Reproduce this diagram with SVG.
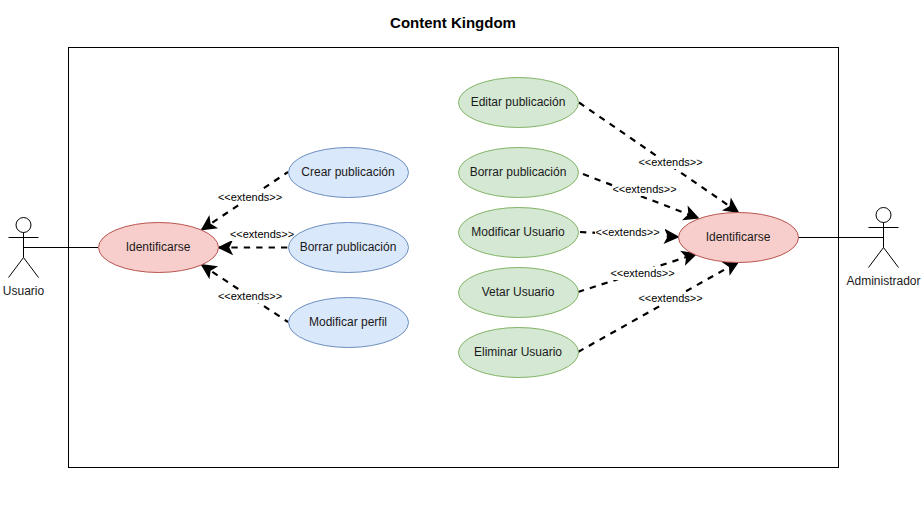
<svg xmlns="http://www.w3.org/2000/svg" width="924" height="515" viewBox="0 0 924 515">
<style>
text{font-family:"Liberation Sans",Arial,sans-serif;font-size:12px;fill:#1a1a1a;text-anchor:middle}
.title{font-size:15px;font-weight:bold;fill:#000}
.lab{font-size:11px;fill:#000}
.labbg{fill:#fff}
.blue{fill:#dae8fc;stroke:#6c8ebf}
.green{fill:#d5e8d4;stroke:#82b366}
.red{fill:#f8cecc;stroke:#b85450}
.line{fill:none;stroke:#000;stroke-width:1}
.dash{fill:none;stroke:#000;stroke-width:2.2;stroke-dasharray:6.3 6.1;marker-end:url(#arrow)}
.rev{fill:none;stroke:#000;stroke-width:2.2;stroke-dasharray:6.3 6.1;marker-start:url(#arrow)}
</style>
<defs>
<marker id="arrow" markerUnits="userSpaceOnUse" markerWidth="18" markerHeight="18" refX="15" refY="9" orient="auto-start-reverse" overflow="visible">
<path d="M15 9 L2.5 2.8 L5.5 9 L2.5 15.2 Z" fill="#000" stroke="#000" stroke-width="1.5" stroke-linejoin="miter"/>
</marker>
</defs>
<rect x="0" y="0" width="924" height="515" fill="#fff"/>
<text class="title" x="453" y="28">Content Kingdom</text>
<rect id="boundary" class="line" x="68.5" y="47.5" width="770" height="420"/>
<g id="connectors">
<line class="line" x1="23.5" y1="247.5" x2="98" y2="247.5"/>
<line class="line" x1="798" y1="237.5" x2="883.5" y2="237.5"/>
<path class="rev" d="M202 229.5 L288 172"/>
<path class="rev" d="M219 247.5 L288 247.5"/>
<path class="rev" d="M202 265 L288 322"/>
<path class="dash" d="M579 102.5 L738 212"/>
<path class="dash" d="M583 174 L698 218"/>
<path class="dash" d="M580 232 L678 237"/>
<path class="dash" d="M578 292 L696 254"/>
<path class="dash" d="M578 352 L738 262"/>
<g id="edge-labels">
<rect class="labbg" x="218" y="191" width="64" height="13"/><text class="lab" x="250" y="201">&lt;&lt;extends&gt;&gt;</text>
<rect class="labbg" x="230" y="228" width="64" height="13"/><text class="lab" x="262" y="238">&lt;&lt;extends&gt;&gt;</text>
<rect class="labbg" x="218" y="290" width="64" height="13"/><text class="lab" x="250" y="300">&lt;&lt;extends&gt;&gt;</text>
<rect class="labbg" x="639" y="156" width="64" height="13"/><text class="lab" x="670.5" y="166">&lt;&lt;extends&gt;&gt;</text>
<rect class="labbg" x="613" y="183" width="64" height="13"/><text class="lab" x="644.5" y="193">&lt;&lt;extends&gt;&gt;</text>
<rect class="labbg" x="595" y="226" width="70" height="13"/><text class="lab" x="627.5" y="236">&lt;&lt;extends&gt;&gt;</text>
<rect class="labbg" x="611" y="267" width="64" height="13"/><text class="lab" x="642.5" y="277">&lt;&lt;extends&gt;&gt;</text>
<rect class="labbg" x="639" y="292" width="64" height="13"/><text class="lab" x="670.5" y="302">&lt;&lt;extends&gt;&gt;</text>
</g>
</g>
<g id="actor-usuario">
<circle cx="23.5" cy="225" r="7.5" fill="#fff" stroke="#000"/>
<path class="line" d="M23.5 232.5V257.5M8.5 237.5H38.5M8.5 277.5L23.5 257.5L38.5 277.5"/>
<text x="23.5" y="295">Usuario</text>
</g>
<g id="actor-administrador">
<circle cx="883.5" cy="215" r="7.5" fill="#fff" stroke="#000"/>
<path class="line" d="M883.5 222.5V247.5M868.5 227.5H898.5M868.5 267.5L883.5 247.5L898.5 267.5"/>
<text x="883.5" y="285">Administrador</text>
</g>
<g id="uc-identificarse-1"><ellipse class="red" cx="158.5" cy="247.5" rx="60" ry="25"/><text x="158" y="251">Identificarse</text></g>
<g id="uc-crear"><ellipse class="blue" cx="348.5" cy="172.5" rx="60" ry="25"/><text x="348" y="176">Crear publicación</text></g>
<g id="uc-borrar"><ellipse class="blue" cx="348.5" cy="247.5" rx="60" ry="25"/><text x="348" y="251">Borrar publicación</text></g>
<g id="uc-perfil"><ellipse class="blue" cx="348.5" cy="322.5" rx="60" ry="25"/><text x="348" y="326">Modificar perfil</text></g>
<g id="uc-editar"><ellipse class="green" cx="518.5" cy="102.5" rx="60" ry="25"/><text x="518" y="106">Editar publicación</text></g>
<g id="uc-borrar2"><ellipse class="green" cx="518.5" cy="172.5" rx="60" ry="25"/><text x="518" y="176">Borrar publicación</text></g>
<g id="uc-modificar"><ellipse class="green" cx="518.5" cy="232.5" rx="60" ry="25"/><text x="518" y="236">Modificar Usuario</text></g>
<g id="uc-vetar"><ellipse class="green" cx="518.5" cy="292.5" rx="60" ry="25"/><text x="518" y="296">Vetar Usuario</text></g>
<g id="uc-eliminar"><ellipse class="green" cx="518.5" cy="352.5" rx="60" ry="25"/><text x="518" y="356">Eliminar Usuario</text></g>
<g id="uc-identificarse-2"><ellipse class="red" cx="738.5" cy="237.5" rx="60" ry="25"/><text x="738" y="241">Identificarse</text></g>
</svg>
